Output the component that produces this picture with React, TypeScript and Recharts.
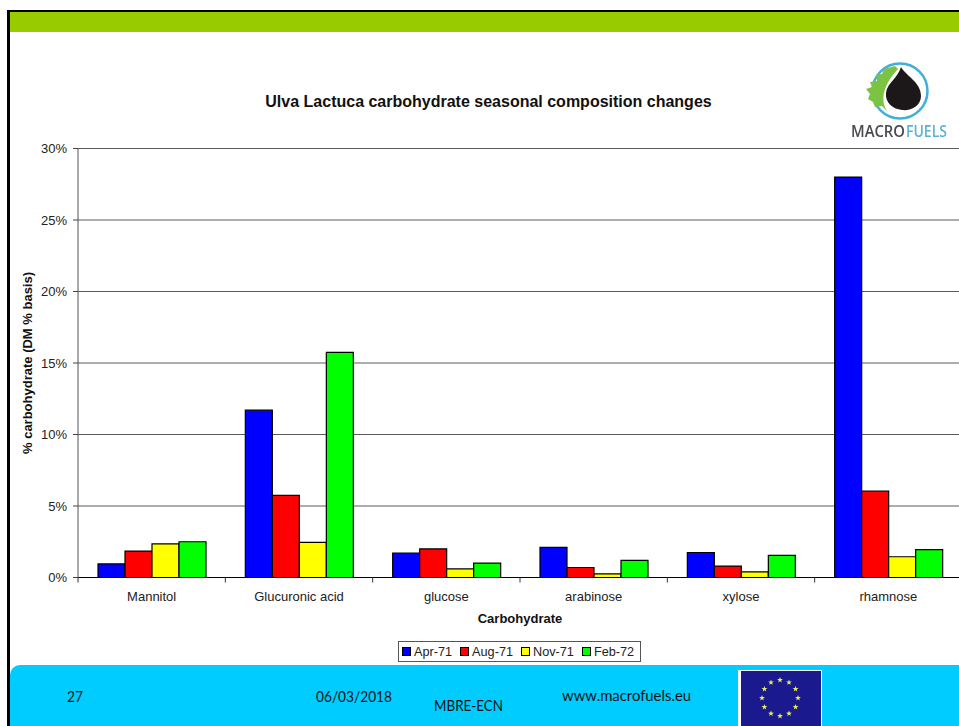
import { Bar, BarChart, CartesianGrid, Legend, XAxis, YAxis } from 'recharts';

const categories = ['Mannitol', 'Glucuronic acid', 'glucose', 'arabinose', 'xylose', 'rhamnose'];
const apr71 = [0.95, 11.7, 1.7, 2.1, 1.75, 28];
const aug71 = [1.85, 5.75, 2.0, 0.7, 0.8, 6.05];
const nov71 = [2.35, 2.45, 0.6, 0.25, 0.4, 1.45];
const feb72 = [2.5, 15.75, 1.0, 1.2, 1.55, 1.95];
const percentTicks = [0, 5, 10, 15, 20, 25, 30];

const data = categories.map((name, i) => ({
  name,
  apr: apr71[i],
  aug: aug71[i],
  nov: nov71[i],
  feb: feb72[i],
}));

const ARIAL = '"Liberation Sans", Arial, sans-serif';
const FOOTER_FONT = 'Lato, "Open Sans", sans-serif';
const LOGO_FONT = '"Open Sans", sans-serif';
const CHART_WIDTH = 962;
const Y_AXIS_WIDTH = 78;
const HALF_BAND = (CHART_WIDTH - Y_AXIS_WIDTH) / categories.length / 2;
const tickStyle = { fill: '#222', fontSize: 13, fontFamily: ARIAL };
const axisTitleStyle = { fontFamily: ARIAL, fontSize: 13, fontWeight: 'bold', fill: '#111' };

// Category label with its tick mark moved to the left edge of the band
function CategoryTick({ x, y, payload }: { x: number; y: number; payload: { value: string } }) {
  return (
    <g>
      <line x1={x - HALF_BAND} x2={x - HALF_BAND} y1={y} y2={y + 5} stroke="#333" />
      <text x={x} y={y + 23} textAnchor="middle" {...tickStyle}>
        {payload.value}
      </text>
    </g>
  );
}

function SeriesLegend({ payload }: { payload?: { value: string; color: string }[] }) {
  return (
    <div
      style={{
        boxSizing: 'border-box',
        width: 243,
        height: 21,
        border: '1px solid #555',
        background: '#fff',
        display: 'flex',
        alignItems: 'center',
        paddingLeft: 3,
        fontFamily: ARIAL,
        fontSize: 12.7,
        color: '#222',
        whiteSpace: 'nowrap',
      }}
    >
      {(payload ?? []).map((item) => (
        <span key={item.value} style={{ display: 'flex', alignItems: 'center', marginRight: 8 }}>
          <span
            style={{
              boxSizing: 'border-box',
              width: 9,
              height: 9,
              marginRight: 3,
              border: '1px solid #000',
              background: item.color,
            }}
          />
          {item.value}
        </span>
      ))}
    </div>
  );
}

function starPoints(cx: number, cy: number, r: number) {
  const pts: string[] = [];
  for (let i = 0; i < 10; i++) {
    const a = -Math.PI / 2 + (i * Math.PI) / 5;
    const rr = i % 2 === 0 ? r : r * 0.42;
    pts.push(`${cx + rr * Math.cos(a)},${cy + rr * Math.sin(a)}`);
  }
  return pts.join(' ');
}

function FooterText({ x, y, width, children }: { x: number; y: number; width: number; children: string }) {
  return (
    <text
      x={x}
      y={y}
      fontFamily={FOOTER_FONT}
      fontSize={14.5}
      fill="#111"
      textLength={width}
      lengthAdjust="spacingAndGlyphs"
    >
      {children}
    </text>
  );
}

// Slide furniture around the chart: title, logo, EU flag, footer captions
function Overlay() {
  const stars = Array.from({ length: 12 }, (_, i) => (i * Math.PI) / 6);
  return (
    <svg width={959} height={726} style={{ position: 'absolute', left: 0, top: 0, pointerEvents: 'none' }}>
      <text
        x={488.5}
        y={106.5}
        textAnchor="middle"
        fontFamily={ARIAL}
        fontWeight="bold"
        fontSize={16}
        fill="#111"
      >
        Ulva Lactuca carbohydrate seasonal composition changes
      </text>

      <g style={{ filter: 'blur(0.5px)' }}>
        <circle cx={900} cy={91} r={27.5} fill="#fff" stroke="#3fb0dc" strokeWidth={2.5} />
        <path
          d="M901 67 C 906 76 921 82 921 96 C 921 106 911 111 902 110 C 892 109 885 102 886 93 C 887 83 898 78 901 67 Z"
          fill="#1c1718"
        />
        <path
          d="M895 66 L 884 69 L 882 74 L 876 75 L 877 81 L 870 82 L 872 87 L 866 89 L 870 94 L 868 99 L 873 102 L 875 107 L 882 106 L 888 112 C 880 102 882 86 898 69 Z"
          fill="#7cc243"
        />
        <text
          x={851}
          y={136.5}
          fontFamily={LOGO_FONT}
          fontWeight={600}
          fontSize={16}
          fill="#4a4a4f"
          textLength={54}
          lengthAdjust="spacingAndGlyphs"
        >
          MACRO
        </text>
        <text
          x={906}
          y={136.5}
          fontFamily={LOGO_FONT}
          fontWeight={600}
          fontSize={16}
          fill="#5cb2d6"
          textLength={41}
          lengthAdjust="spacingAndGlyphs"
        >
          FUELS
        </text>
      </g>

      <rect x={738} y={670} width={84} height={56} fill="#fff" />
      <rect x={741} y={671} width={80} height={55} fill="#1a1a8e" />
      <g style={{ filter: 'blur(0.4px)' }}>
        {stars.map((a, i) => (
          <polygon
            key={i}
            points={starPoints(780 + 18 * Math.sin(a), 698 - 18 * Math.cos(a), 3)}
            fill="#e6e85c"
          />
        ))}
      </g>

      <FooterText x={67} y={702} width={16}>27</FooterText>
      <FooterText x={316} y={702} width={76}>06/03/2018</FooterText>
      <FooterText x={434} y={710.5} width={69}>MBRE-ECN</FooterText>
      <FooterText x={562} y={701} width={129}>www.macrofuels.eu</FooterText>
    </svg>
  );
}

export default function App() {
  return (
    <div
      style={{
        position: 'fixed',
        left: 0,
        top: 0,
        width: 959,
        height: 726,
        overflow: 'hidden',
        background: '#fff',
      }}
    >
      <div style={{ position: 'absolute', left: 7, top: 10, width: 952, height: 2, background: '#000' }} />
      <div style={{ position: 'absolute', left: 7, top: 10, width: 3, height: 716, background: '#000' }} />
      <div style={{ position: 'absolute', left: 10, top: 12, width: 949, height: 20, background: '#99cc00' }} />

      <div style={{ position: 'absolute', left: 0, top: 0 }}>
        <BarChart
          width={CHART_WIDTH}
          height={664}
          data={data}
          barSize={27}
          barGap={0}
          margin={{ top: 148.5, right: 0, bottom: 9.5, left: 0 }}
        >
          <CartesianGrid horizontal vertical={false} stroke="#5a5a5a" strokeWidth={1} />
          <XAxis
            dataKey="name"
            interval={0}
            height={56}
            axisLine={{ stroke: '#000' }}
            tickLine={false}
            tickSize={0}
            tickMargin={0}
            tick={(props: any) => <CategoryTick {...props} />}
            label={{
              value: 'Carbohydrate',
              position: 'insideBottom',
              offset: 10.5,
              style: axisTitleStyle,
            }}
          />
          <YAxis
            width={Y_AXIS_WIDTH}
            domain={[0, 30]}
            ticks={percentTicks}
            interval={0}
            tickFormatter={(v: number) => `${v}%`}
            tick={tickStyle}
            tickSize={5}
            tickMargin={6}
            axisLine={{ stroke: '#555' }}
            tickLine={{ stroke: '#444' }}
            label={{
              value: '% carbohydrate (DM % basis)',
              angle: -90,
              position: 'insideLeft',
              offset: 27,
              style: { ...axisTitleStyle, textAnchor: 'middle' },
            }}
          />
          <Legend
            verticalAlign="bottom"
            itemSorter={null}
            content={(props: any) => <SeriesLegend payload={props.payload} />}
            wrapperStyle={{ left: 398, bottom: 2, width: 243, height: 21 }}
          />
          <Bar dataKey="apr" name="Apr-71" fill="#0000ff" stroke="#000" strokeWidth={1.2} isAnimationActive={false} />
          <Bar dataKey="aug" name="Aug-71" fill="#ff0000" stroke="#000" strokeWidth={1.2} isAnimationActive={false} />
          <Bar dataKey="nov" name="Nov-71" fill="#ffff00" stroke="#000" strokeWidth={1.2} isAnimationActive={false} />
          <Bar dataKey="feb" name="Feb-72" fill="#00ff00" stroke="#000" strokeWidth={1.2} isAnimationActive={false} />
        </BarChart>
      </div>

      <div
        style={{
          position: 'absolute',
          left: 10,
          top: 665,
          width: 949,
          height: 61,
          background: '#00ccff',
          borderTopLeftRadius: 10,
        }}
      />
      <Overlay />
    </div>
  );
}
